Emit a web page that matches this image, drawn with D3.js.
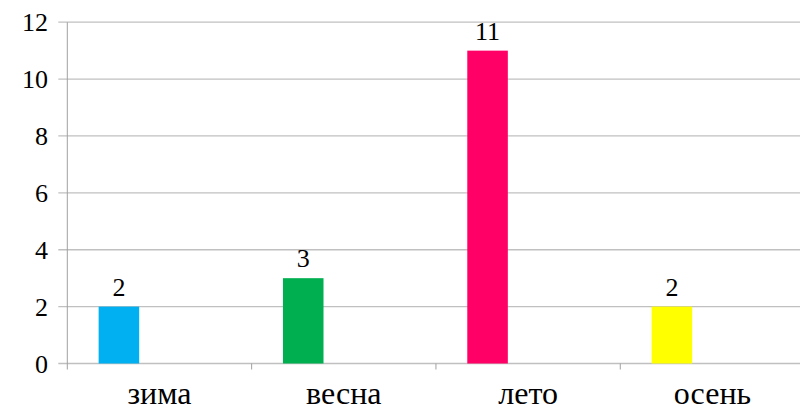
<!DOCTYPE html>
<html><head><meta charset="utf-8">
<script src="https://cdn.jsdelivr.net/npm/d3@7"></script>
<style>body{margin:0;background:#fff}svg{display:block}</style>
</head><body>
<script>
const categories = ["зима", "весна", "лето", "осень"];
const values = [2, 3, 11, 2];
const colors = ["#00B0F0", "#00B050", "#FF0066", "#FFFF00"];
const yTicks = [0, 2, 4, 6, 8, 10, 12];

const svg = d3.select("body").append("svg").attr("width", 800).attr("height", 408);

const x = d3.scaleBand().domain(categories).range([67.3, 804.6]);
const y = d3.scaleLinear().domain([0, 12]).range([363.5, 22.2]);
const bw = x.bandwidth();
const barOff = bw * 0.17, barW = bw * 0.22;

// gridlines
svg.append("g").selectAll("line").data(yTicks).join("line")
  .attr("x1", x.range()[0] - 9).attr("x2", x.range()[1])
  .attr("y1", d => y(d)).attr("y2", d => y(d))
  .attr("stroke", "#c0c0c0").attr("stroke-width", 1.3);

// y axis line
svg.append("line").attr("x1", x.range()[0]).attr("x2", x.range()[0])
  .attr("y1", y(12)).attr("y2", y(0) + 6)
  .attr("stroke", "#a0a0a0").attr("stroke-width", 1);

// category ticks
svg.append("g").selectAll("line").data(categories.slice(1)).join("line")
  .attr("x1", d => x(d)).attr("x2", d => x(d))
  .attr("y1", y(0)).attr("y2", y(0) + 6)
  .attr("stroke", "#a0a0a0").attr("stroke-width", 1);

// bars
svg.append("g").selectAll("rect").data(values).join("rect")
  .attr("x", (d, i) => x(categories[i]) + barOff)
  .attr("width", barW)
  .attr("y", d => y(d)).attr("height", d => y(0) - y(d))
  .attr("fill", (d, i) => colors[i]);

// y tick labels
yTicks.forEach(t => {
  svg.append("text").attr("x", 48).attr("y", y(t) + 9).attr("font-size", 26)
    .attr("font-family", "Liberation Serif").attr("text-anchor", "end").text(String(t));
});

// value labels
values.forEach((v, i) => {
  svg.append("text").attr("x", x(categories[i]) + barOff + barW / 2).attr("y", y(v) - 11)
    .attr("font-size", 26).attr("font-family", "Liberation Serif")
    .attr("text-anchor", "middle").text(String(v));
});

// category labels
categories.forEach(c => {
  svg.append("text").attr("x", x(c) + bw / 2).attr("y", 404)
    .attr("font-size", 32).attr("font-family", "Liberation Serif")
    .attr("text-anchor", "middle").text(c);
});
</script>
</body></html>
